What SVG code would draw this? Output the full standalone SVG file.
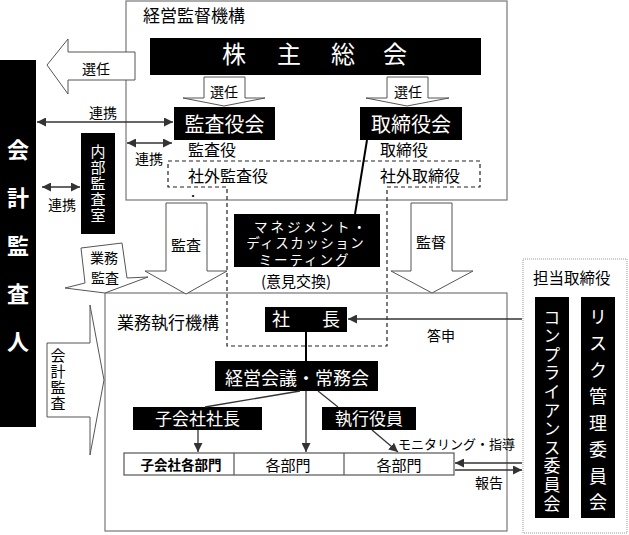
<svg xmlns="http://www.w3.org/2000/svg" width="629" height="535" viewBox="0 0 629 535">
<defs>
<style>
text{font-family:"Noto Sans CJK JP","Noto Sans",sans-serif;fill:#000}
.w{fill:#fff}
.m{text-anchor:middle}
.v{writing-mode:vertical-rl;text-anchor:middle}
.blk{fill:#000}
.frame{fill:#fff;stroke:#777;stroke-width:1.2}
.barrow{fill:#fff;stroke:#555;stroke-width:1}
.dash{fill:none;stroke:#222;stroke-width:1.2;stroke-dasharray:4 3}
.dot{fill:none;stroke:#999;stroke-width:1;stroke-dasharray:1 1}
.ln{fill:none;stroke:#333;stroke-width:1.3}
.ln2{fill:none;stroke:#000;stroke-width:2}
</style>
<marker id="ah" viewBox="0 0 10 10" refX="10" refY="5" markerWidth="9" markerHeight="9" markerUnits="userSpaceOnUse" orient="auto-start-reverse">
<path d="M0,0 L10,5 L0,10 z" fill="#333"/>
</marker>
</defs>

<g id="keiei-kantoku">
<rect class="frame" x="126" y="1" width="381" height="199"/>
<text x="143" y="22" font-size="17">経営監督機構</text>
</g>

<g id="gyomu-shikko">
<rect class="frame" x="105" y="293" width="402" height="238"/>
<text x="117" y="329" font-size="17">業務執行機構</text>
</g>

<g id="kabunushi">
<rect class="blk" x="150" y="38" width="331" height="37"/>
<text class="w m" font-size="24" x="234 289 343 395" y="63">株主総会</text>
</g>

<g id="kansayakukai">
<rect class="blk" x="174" y="107" width="101" height="33"/>
<text class="w m" font-size="20" x="224.5" y="132">監査役会</text>
</g>

<g id="torishimariyakukai">
<rect class="blk" x="360" y="107" width="102" height="33"/>
<text class="w m" font-size="20" x="411" y="132">取締役会</text>
</g>

<g id="labels-yakuin">
<text font-size="16" x="188" y="156">監査役</text>
<text font-size="16" x="380" y="156">取締役</text>
</g>

<g id="shagai">
<path class="dash" d="M168,161 H480 V187 H387 V346 H227 V187 H168 Z"/>
<text font-size="16" x="188" y="182">社外監査役</text>
<text font-size="16" x="380" y="182">社外取締役</text>
<text class="m" font-size="10" x="193" y="200">・</text>
</g>

<g id="mdm">
<rect class="blk" x="234" y="214" width="146" height="53"/>
<text class="w m" font-size="13.5"><tspan x="311.5" y="231.5" letter-spacing="2.9">マネジメント・</tspan><tspan x="305.8" y="248" letter-spacing="1.5">ディスカッション</tspan><tspan x="304.5" y="264.5" letter-spacing="2">ミーティング</tspan></text>
<text class="m" font-size="15" x="296" y="287">(意見交換)</text>
</g>

<g id="kaikei-kansanin">
<rect class="blk" x="0" y="60" width="36" height="367"/>
<text class="w v" font-size="22" font-weight="bold" letter-spacing="26" x="18" y="259">会計監査人</text>
</g>

<g id="naibu-kansa">
<rect class="blk" x="81" y="133" width="34" height="101"/>
<text class="w v" font-size="15" letter-spacing="1" x="98" y="184">内部監査室</text>
</g>

<g id="shacho">
<rect class="blk" x="265" y="307" width="82" height="25"/>
<text class="w m" font-size="18" x="281 331" y="326">社長</text>
</g>

<g id="keiei-kaigi">
<rect class="blk" x="215" y="361" width="163" height="30"/>
<text class="w m" font-size="18" x="297" y="385">経営会議・常務会</text>
</g>

<g id="kogaisha-shacho">
<rect class="blk" x="133" y="407" width="129" height="23"/>
<text class="w m" font-size="17" x="197.5" y="425">子会社社長</text>
</g>

<g id="shikko-yakuin">
<rect class="blk" x="322" y="407" width="94" height="23"/>
<text class="w m" font-size="17" x="369" y="425">執行役員</text>
</g>

<g id="bumon">
<rect x="124" y="453" width="330" height="22" fill="#fff" stroke="#555" stroke-width="1.2"/>
<line x1="234" y1="453" x2="234" y2="475" stroke="#555" stroke-width="1.2"/>
<line x1="344" y1="453" x2="344" y2="475" stroke="#555" stroke-width="1.2"/>
<text class="m" font-size="13.5" font-weight="bold" x="181" y="470">子会社各部門</text>
<text class="m" font-size="15" x="288" y="471">各部門</text>
<text class="m" font-size="15" x="399" y="471">各部門</text>
</g>

<g id="iinkai">
<rect class="dot" x="523" y="259" width="104" height="274"/>
<text font-size="15.5" x="533" y="284">担当取締役</text>
<rect class="blk" x="535" y="297" width="34" height="221"/>
<text class="w v" font-size="17" letter-spacing="1.6" x="552" y="411">コンプライアンス委員会</text>
<rect class="blk" x="581" y="297" width="34" height="221"/>
<text class="w v" font-size="18" letter-spacing="8.5" x="598" y="414">リスク管理委員会</text>
</g>

<g id="block-arrows">
<path class="barrow" d="M135,52 H68 V39 L47,65 L68,94 V80 H135 Z"/>
<text class="m" font-size="14" x="96" y="74">選任</text>
<path class="barrow" d="M204,77 H245 V98 H265 L224,106 L183,98 H204 Z"/>
<text class="m" font-size="14" x="224" y="97">選任</text>
<path class="barrow" d="M387,77 H428 V98 H449 L407,106 L366,98 H387 Z"/>
<text class="m" font-size="14" x="408" y="97">選任</text>
<path class="barrow" d="M166,203 H207 V271 H227 L186,294 L145,271 H166 Z"/>
<text class="m" font-size="15" x="186" y="251">監査</text>
<path class="barrow" d="M411,203 H452 V271 H473 L432,293 L391,271 H411 Z"/>
<text class="m" font-size="15" x="431" y="248">監督</text>
<path class="barrow" d="M81,248 L122,243 L127,278 L148,277 L105,293 L65,288 L85,283 Z"/>
<text class="m" font-size="14"><tspan x="104" y="263">業務</tspan><tspan x="105" y="283">監査</tspan></text>
<path class="barrow" d="M47,343 H90 V305 L104,380 L90,455 V417 H47 Z"/>
<text class="v" font-size="15" letter-spacing="1" x="58" y="380">会計監査</text>
</g>

<g id="connectors">
<line class="ln" x1="37" y1="122" x2="173" y2="122" marker-start="url(#ah)" marker-end="url(#ah)"/>
<text class="m" font-size="14" x="103" y="118">連携</text>
<line class="ln" x1="127" y1="143" x2="172" y2="143" marker-start="url(#ah)" marker-end="url(#ah)"/>
<text class="m" font-size="14" x="149" y="164">連携</text>
<line class="ln" x1="42" y1="187" x2="80" y2="187" marker-start="url(#ah)" marker-end="url(#ah)"/>
<text class="m" font-size="14" x="62" y="210">連携</text>
<line class="ln2" x1="367" y1="140" x2="355" y2="214"/>
<line class="ln" x1="522" y1="319" x2="348" y2="319" marker-end="url(#ah)"/>
<text class="m" font-size="14" x="441" y="341">答申</text>
<line class="ln2" x1="306" y1="332" x2="306" y2="361" stroke-width="1.5"/>
<line class="ln" x1="306" y1="391" x2="306" y2="452" marker-end="url(#ah)"/>
<line class="ln" x1="300" y1="391" x2="205" y2="407"/>
<line class="ln" x1="318" y1="391" x2="338" y2="407"/>
<line class="ln" x1="198" y1="430" x2="198" y2="452" marker-end="url(#ah)"/>
<line class="ln" x1="372" y1="430" x2="398" y2="452" marker-end="url(#ah)"/>
<text font-size="13" x="398" y="449">モニタリング・指導</text>
<line class="ln" x1="522" y1="463" x2="455" y2="463" marker-end="url(#ah)"/>
<line class="ln" x1="455" y1="470" x2="522" y2="470" marker-end="url(#ah)"/>
<text font-size="14" x="475" y="488">報告</text>
</g>
</svg>
